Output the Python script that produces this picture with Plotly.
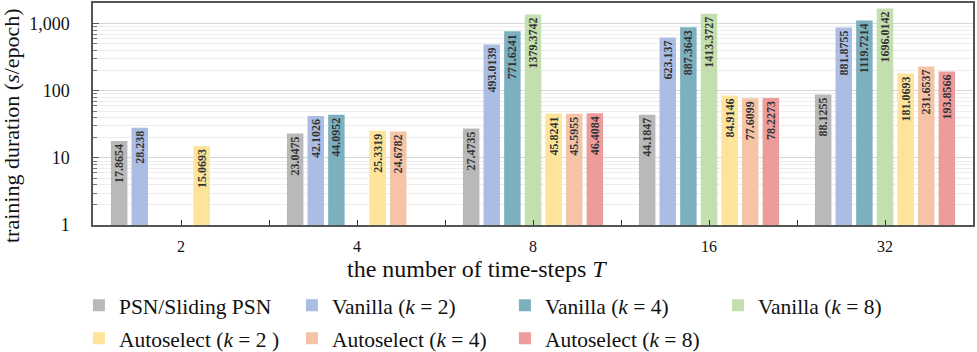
import plotly.graph_objects as go

# time-step categories on the x axis
timesteps = ["2", "4", "8", "16", "32"]

# training duration (s/epoch) per method, None where the bar is absent
psn = [17.8654, 23.0475, 27.4735, 44.1847, 88.1255]
vanilla_k2 = [28.238, 42.1026, 493.0139, 623.137, 881.8755]
vanilla_k4 = [None, 44.0952, 771.6241, 887.3643, 1119.7214]
vanilla_k8 = [None, None, 1379.3742, 1413.3727, 1696.0142]
auto_k2 = [15.0693, 25.3319, 45.8241, 84.9146, 181.0693]
auto_k4 = [None, 24.6782, 45.5955, 77.6099, 231.6537]
auto_k8 = [None, None, 46.4084, 78.2273, 193.8566]

series = [
    ("PSN/Sliding PSN", psn, "#b9b9b9", "legend"),
    ("Vanilla (<i>k</i> = 2)", vanilla_k2, "#abbde3", "legend"),
    ("Vanilla (<i>k</i> = 4)", vanilla_k4, "#7db0bf", "legend"),
    ("Vanilla (<i>k</i> = 8)", vanilla_k8, "#c3dfae", "legend"),
    ("Autoselect (<i>k</i> = 2 )", auto_k2, "#fee49a", "legend2"),
    ("Autoselect (<i>k</i> = 4)", auto_k4, "#f5c3a6", "legend2"),
    ("Autoselect (<i>k</i> = 8)", auto_k8, "#ee9b9b", "legend2"),
]

serif = "Liberation Serif, Times New Roman, serif"

fig = go.Figure()
for name, vals, color, leg in series:
    fig.add_trace(go.Bar(
        x=timesteps,
        y=vals,
        name=name,
        marker=dict(color=color, line=dict(width=0)),
        text=[None if v is None else str(v) for v in vals],
        textposition="inside",
        insidetextanchor="end",
        constraintext="none",
        textangle=-90,
        textfont=dict(family=serif, size=12, color="#333333", weight="bold"),
        legend=leg,
    ))

# helper on the overlay axis so boundary ticks get drawn
fig.add_trace(go.Bar(x=timesteps, y=[None] * len(timesteps), xaxis="x2",
                     showlegend=False, hoverinfo="skip"))

fig.update_layout(
    width=977, height=352,
    margin=dict(l=93, r=4, t=3, b=127, autoexpand=False),
    plot_bgcolor="white",
    paper_bgcolor="white",
    barmode="group",
    bargap=0.18,
    bargroupgap=0.2,
    font=dict(family=serif, color="#111111"),
    legend=dict(
        orientation="h", x=-0.016, y=-0.362, xanchor="left", yanchor="middle",
        font=dict(size=21.5), entrywidth=168, entrywidthmode="pixels",
        traceorder="normal", bgcolor="rgba(0,0,0,0)",
    ),
    legend2=dict(
        orientation="h", x=-0.016, y=-0.51, xanchor="left", yanchor="middle",
        font=dict(size=21.5), entrywidth=168, entrywidthmode="pixels",
        traceorder="normal", bgcolor="rgba(0,0,0,0)",
    ),
    xaxis=dict(
        type="category", automargin=False,
        ticks="inside", ticklen=5, tickcolor="#333333",
        ticklabelstandoff=6,
        showline=True, linecolor="#555555", linewidth=1.5, mirror=True,
        tickfont=dict(size=16),
    ),
    xaxis2=dict(
        type="category", categoryarray=timesteps, range=[-0.5, 4.5],
        overlaying="x", side="bottom", tickson="boundaries",
        ticks="inside", ticklen=5, tickcolor="#333333",
        showticklabels=False, showgrid=False, showline=False,
    ),
    yaxis=dict(
        type="log", range=[0, 3.31], automargin=False,
        dtick=1, tickformat=",",
        ticks="inside", ticklen=6, tickcolor="#555555",
        ticklabelstandoff=18,
        showgrid=True, gridcolor="#d6d6d6", gridwidth=1,
        minor=dict(dtick="D1", ticks="inside", ticklen=4, tickcolor="#777777",
                   showgrid=True, gridcolor="#ededed", gridwidth=1),
        showline=True, linecolor="#555555", linewidth=1.5, mirror=True,
        tickfont=dict(size=18),
    ),
)

# axis titles as annotations: the reference places them off-centre
fig.add_annotation(text="the number of time-steps <i>T</i>", xref="paper", yref="paper",
                   x=0.436, y=-0.196, xanchor="center", yanchor="middle",
                   showarrow=False, font=dict(size=24))
fig.add_annotation(text="training duration (<i>s</i>/epoch)", xref="paper", yref="paper",
                   x=0, y=0.446, xshift=-81, xanchor="center", yanchor="middle",
                   textangle=-90, showarrow=False, font=dict(size=22))

# drop the default page margin so the figure sits at the window corner
fig.write_html("out.html", config={"displayModeBar": False},
               post_script="document.body.style.margin='0';")
